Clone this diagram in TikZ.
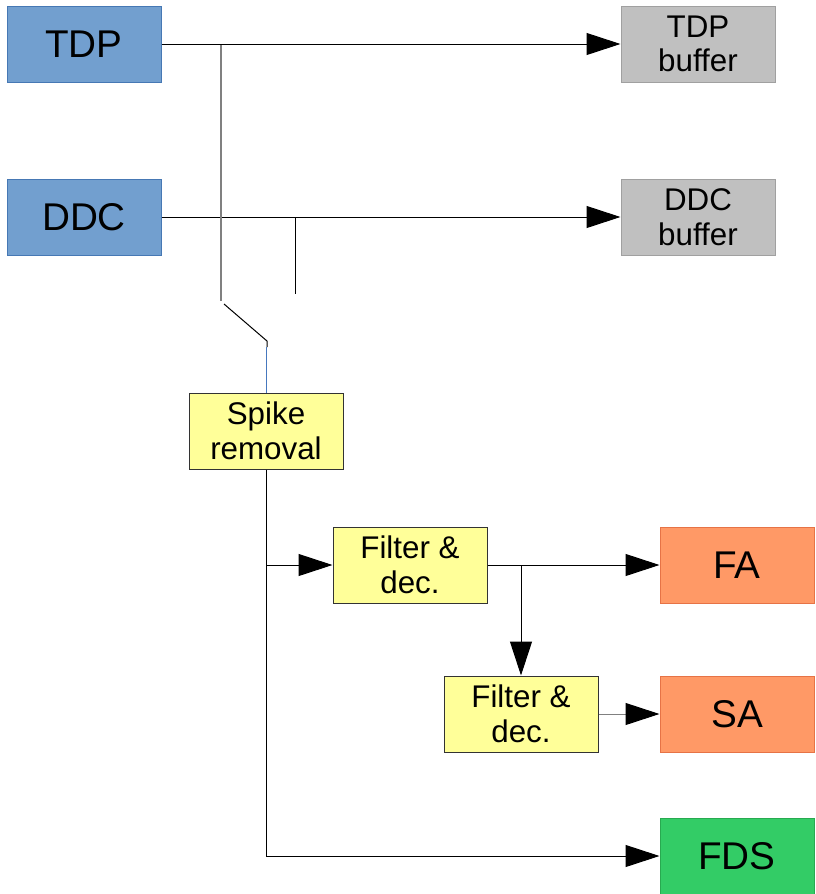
\documentclass[tikz,border=0pt]{standalone}
\usepackage{fontspec}
\setmainfont{Liberation Sans}
\usepackage{xcolor}
\usetikzlibrary{arrows.meta}

\definecolor{srcblue}{RGB}{114,159,207}
\definecolor{srcedge}{RGB}{70,120,180}
\definecolor{bufgray}{RGB}{192,192,192}
\definecolor{bufedge}{RGB}{160,160,160}
\definecolor{procyellow}{RGB}{255,255,153}
\definecolor{outorange}{RGB}{255,153,102}
\definecolor{outedge}{RGB}{230,115,70}
\definecolor{fdsgreen}{RGB}{51,204,102}
\definecolor{fdsedge}{RGB}{40,170,80}
\definecolor{tapgray}{RGB}{128,128,128}
\definecolor{swblue}{RGB}{70,120,190}

\begin{document}
\begin{tikzpicture}[x=0.75pt,y=-0.75pt,line width=0.75pt,
  >={Triangle[length=25.5pt,width=16.5pt,black]},
  box/.style={draw,minimum width=115.5pt,minimum height=57pt,inner sep=0pt,align=center},
  bigbox/.style={box,font=\fontsize{29}{33}\selectfont},
  smallbox/.style={box,font=\fontsize{23.5}{26}\selectfont},
  srcbox/.style={bigbox,fill=srcblue,draw=srcedge},
  bufbox/.style={smallbox,fill=bufgray,draw=bufedge},
  procbox/.style={smallbox,fill=procyellow,draw=black!80},
  outbox/.style={bigbox,fill=outorange,draw=outedge},
  fdsbox/.style={bigbox,fill=fdsgreen,draw=fdsedge}]
\useasboundingbox (0,0) rectangle (816,894);

% blocks
\node[srcbox] (tdp) at (84,44) {TDP};
\node[bufbox] (tdpbuf) at (698,44) {TDP\\buffer};
\node[srcbox] (ddc) at (84,217) {DDC};
\node[bufbox] (ddcbuf) at (698,217) {DDC\\buffer};
\node[procbox] (spike) at (266,431) {Spike\\removal};
\node[procbox] (filt1) at (410,565) {Filter \&\\dec.};
\node[outbox] (fa) at (737,565) {FA};
\node[procbox] (filt2) at (521,714) {Filter \&\\dec.};
\node[outbox] (sa) at (737,714) {SA};
\node[fdsbox] (fds) at (737,856) {FDS};

% switch
\coordinate (tdptap) at (221,45);
\coordinate (tdpend) at (221,301);
\coordinate (ddctap) at (295,217);
\coordinate (ddcend) at (295,294);
\coordinate (swfree) at (224,304);
\coordinate (swpivot) at (267,341);
\coordinate (swjoin) at (266,347);
\coordinate (fbranch) at (266,565);
\coordinate (sbranch) at (521,565);

\draw[->] (tdp) -- (tdpbuf);
\draw[->] (ddc) -- (ddcbuf);
\draw[tapgray,line width=1.1pt] (tdptap) -- (tdpend);
\draw (ddctap) -- (ddcend);
\draw (swfree) -- (swpivot) -- (swpivot |- swjoin);
\draw[swblue] (swjoin) -- (spike);

% outputs
\draw[->] (spike.south) |- (fds);
\draw[->] (fbranch) -- (filt1);
\draw[->] (filt1) -- (fa);
\draw[->] (sbranch) -- (filt2);
\draw[->,draw=tapgray] (filt2) -- (sa);
\end{tikzpicture}
\end{document}
